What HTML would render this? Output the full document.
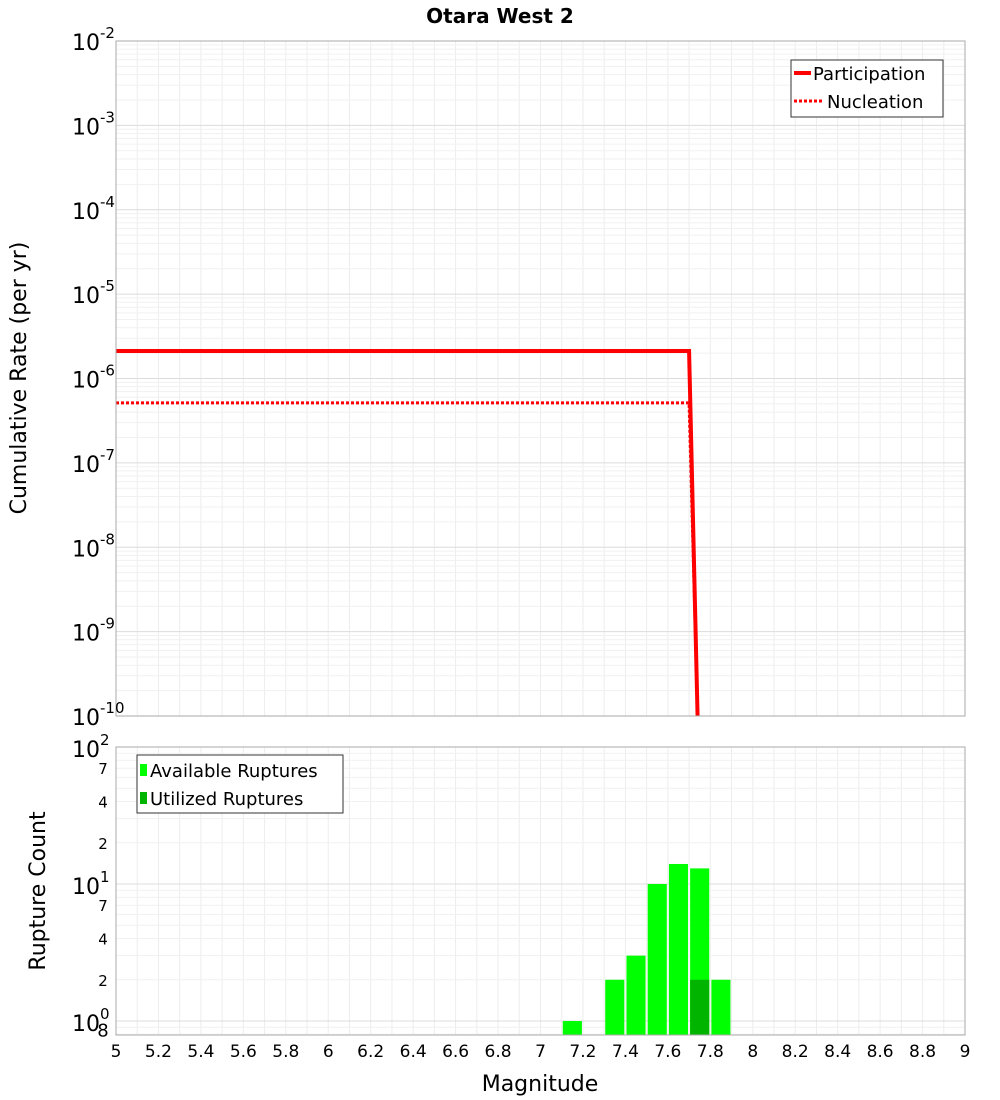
<!DOCTYPE html>
<html><head><meta charset="utf-8"><style>
body{margin:0;background:#fff;}
svg{display:block;font-family:"DejaVu Sans","Liberation Sans",sans-serif;}
</style></head><body>
<svg id="chart" width="1000" height="1100">
<text x="500" y="23" text-anchor="middle" font-size="20" font-weight="bold">Otara West 2</text>
<g id="grid"></g>
<g id="marks"></g>
<rect x="116" y="41" width="849" height="675" fill="none" stroke="#aaa"/>
<rect x="116" y="747" width="849" height="288" fill="none" stroke="#aaa"/>
<g id="labels"></g>
<text transform="translate(26,378) rotate(-90)" text-anchor="middle" font-size="22">Cumulative Rate (per yr)</text>
<text transform="translate(45,891) rotate(-90)" text-anchor="middle" font-size="22">Rupture Count</text>
<text x="540" y="1091" text-anchor="middle" font-size="22">Magnitude</text>
<g>
<rect x="791" y="60" width="152" height="57" fill="#fff" stroke="#333"/>
<line x1="794" y1="73" x2="811" y2="73" stroke="#f00" stroke-width="4"/>
<text x="813" y="80" font-size="18">Participation</text>
<line x1="794" y1="101" x2="823" y2="101" stroke="#f00" stroke-width="3" stroke-dasharray="3,2"/>
<text x="827" y="108" font-size="18">Nucleation</text>
</g>
<g>
<rect x="137" y="755" width="206" height="58" fill="#fff" stroke="#333"/>
<rect x="140" y="764" width="7" height="12" fill="#00ff00"/>
<text x="150" y="777" font-size="18">Available Ruptures</text>
<rect x="140" y="792" width="7" height="12" fill="#00b400"/>
<text x="150" y="805" font-size="18">Utilized Ruptures</text>
</g>
</svg>
<script>
const partX=[5.0,7.70,7.74];
const partY=[2.12e-6,2.12e-6,1e-10];
const nuclX=[5.0,7.70,7.74];
const nuclY=[5.14e-7,5.14e-7,1e-10];
const binMags=[7.15,7.35,7.45,7.55,7.65,7.75,7.85];
const availCounts=[1,2,3,10,14,13,2];
const usedMags=[7.75];
const usedCounts=[2];
const xTicks=[5,5.2,5.4,5.6,5.8,6,6.2,6.4,6.6,6.8,7,7.2,7.4,7.6,7.8,8,8.2,8.4,8.6,8.8,9];
const topExps=[-2,-3,-4,-5,-6,-7,-8,-9,-10];
const ns="http://www.w3.org/2000/svg";
const X=m=>116+(m-5)*212.25;
const YT=v=>41+(-2-Math.log10(v))*84.375;
const YB=v=>1021-Math.log10(v)*137;
function mk(t,a,p){const e=document.createElementNS(ns,t);for(const k in a)e.setAttribute(k,a[k]);(p||document.getElementById('marks')).appendChild(e);return e;}
const grid=document.getElementById('grid'),lab=document.getElementById('labels');
for(let m=5;m<=9.001;m+=0.1){const x=X(m);
 let g=mk('line',{x1:x,x2:x,y1:41,y2:716,stroke:'#ededed'},grid);
 
 
 g=mk('line',{x1:x,x2:x,y1:747,y2:1035,stroke:'#ededed'},grid);
 
 }
for(let e=-10;e<-2;e++)for(let k=1;k<10;k++){const y=YT(k*Math.pow(10,e));
 const g=mk('line',{x1:116,x2:965,y1:y,y2:y,stroke:k==1?'#dcdcdc':'#f1f1f1'},grid);
 
 }
for(let e=-1;e<2;e++)for(let k=1;k<10;k++){const v=k*Math.pow(10,e);const y=YB(v);if(y>1035||y<747)continue;
 const g=mk('line',{x1:116,x2:965,y1:y,y2:y,stroke:k==1?'#dcdcdc':'#f1f1f1'},grid);
 
 }
binMags.forEach((m,i)=>{const y=YB(availCounts[i]);
 const r=mk('rect',{x:X(m-0.045),y:y,width:0.09*212.25,height:1035-y,fill:'#00ff00'});
 
 });
usedMags.forEach((m,i)=>{const y=YB(usedCounts[i]);
 const r=mk('rect',{x:X(m-0.045),y:y,width:0.09*212.25,height:1035-y,fill:'#00b400'});
 
 });
function pts(xs,ys){return xs.map((x,i)=>X(x)+','+Math.min(YT(ys[i]),716)).join(' ');}
let l=mk('polyline',{points:pts(partX,partY),fill:'none',stroke:'#f00','stroke-width':4});


l=mk('polyline',{points:pts(nuclX,nuclY),fill:'none',stroke:'#f00','stroke-width':3,'stroke-dasharray':'3,2'});


xTicks.forEach(m=>{const t=mk('text',{x:X(m),y:1057,'text-anchor':'middle','font-size':17},lab);t.textContent=String(m);
 
 });
topExps.forEach(e=>{const y=YT(Math.pow(10,e));
 const t=mk('text',{x:72,y:y+9,'font-size':22},lab);
 t.innerHTML='10<tspan dy="-12" font-size="15">'+e+'</tspan>';
 
 });
[[100,'10','2'],[10,'10','1'],[1,'10','0']].forEach(a=>{const y=YB(a[0]);
 const t=mk('text',{x:72,y:y+10,'font-size':22},lab);
 t.innerHTML=a[1]+'<tspan dy="-12" font-size="15">'+a[2]+'</tspan>';
 
 });
[[70,'7'],[40,'4'],[20,'2'],[7,'7'],[4,'4'],[2,'2'],[0.8,'8']].forEach(a=>{const y=YB(a[0]);
 const t=mk('text',{x:103,y:y+(a[0]<1?2:6),'text-anchor':'middle','font-size':a[0]<1?18:15},lab);t.textContent=a[1];
 
 });
</script>
</body></html>
